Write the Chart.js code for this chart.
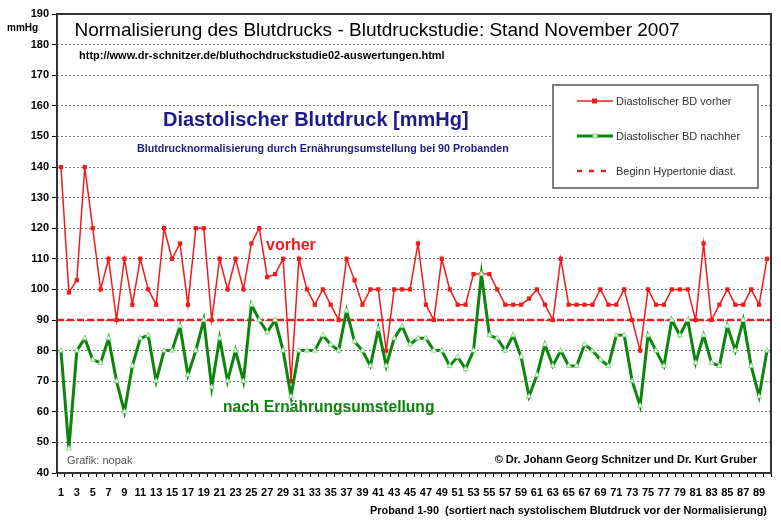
<!DOCTYPE html>
<html>
<head>
<meta charset="utf-8">
<script src="https://cdn.jsdelivr.net/npm/chart.js@4.4.1/dist/chart.umd.min.js"></script>
<style>
html, body { margin: 0; padding: 0; background: #fff; }
#wrap { width: 781px; height: 524px; position: relative; }
</style>
</head>
<body>
<div id="wrap"><canvas id="chart"></canvas></div>
<script>
// Proband 1-90
var probanden = [];
for (var i = 1; i <= 90; i++) probanden.push(String(i));

var vorher = [
  140, 99, 103, 140, 120, 100, 110, 90, 110, 95,
  110, 100, 95, 120, 110, 115, 95, 120, 120, 90,
  110, 100, 110, 100, 115, 120, 104, 105, 110, 70,
  110, 100, 95, 100, 95, 90, 110, 103, 95, 100,
  100, 80, 100, 100, 100, 115, 95, 90, 110, 100,
  95, 95, 105, 105, 105, 100, 95, 95, 95, 97,
  100, 95, 90, 110, 95, 95, 95, 95, 100, 95,
  95, 100, 90, 80, 100, 95, 95, 100, 100, 100,
  90, 115, 90, 95, 100, 95, 95, 100, 95, 110
];
var nachher = [
  80, 48, 80, 84, 77, 76, 84, 70, 60, 75,
  84, 85, 70, 80, 80, 88, 72, 80, 90, 68,
  84, 70, 80, 70, 95, 90, 86, 90, 80, 65,
  80, 80, 80, 85, 82, 80, 93, 83, 80, 75,
  87, 75, 84, 88, 82, 84, 84, 80, 80, 75,
  78, 74, 80, 105, 85, 84, 80, 85, 78, 65,
  72, 82, 75, 80, 75, 75, 82, 80, 77, 75,
  85, 85, 70, 62, 85, 80, 75, 90, 85, 90,
  76, 85, 76, 75, 88, 80, 90, 75, 65, 80
];
var hypertonieGrenze = 90;
var yMin = 40, yMax = 190, yStep = 10;

var rot = '#ee1c1c';
var gruen = '#0c850c';
var blau = '#1b1b8a';
var schrift = '"Liberation Sans", Arial, sans-serif';

Chart.defaults.font.family = schrift;

var beschriftung = {
  id: 'beschriftung',
  beforeDatasetsDraw: function (chart) {
    var ctx = chart.ctx, a = chart.chartArea;
    var y = chart.scales.y.getPixelForValue(hypertonieGrenze);
    ctx.save();
    ctx.strokeStyle = rot;
    ctx.lineWidth = 2.5;
    ctx.setLineDash([7, 3]);
    ctx.beginPath();
    ctx.moveTo(a.left, y);
    ctx.lineTo(a.right, y);
    ctx.stroke();
    ctx.restore();
  },
  afterDraw: function (chart) {
    var ctx = chart.ctx, a = chart.chartArea;
    ctx.save();
    ctx.strokeStyle = '#333';
    ctx.lineWidth = 2;
    ctx.strokeRect(a.left, a.top, a.right - a.left, a.bottom - a.top);

    function text(s, x, y, font, color, align) {
      ctx.font = font;
      ctx.fillStyle = color;
      ctx.textAlign = align || 'left';
      ctx.textBaseline = 'alphabetic';
      ctx.fillText(s, x, y);
    }
    text('mmHg', 7, 31, 'bold 10px ' + schrift, '#000');
    text('Normalisierung des Blutdrucks - Blutdruckstudie: Stand November 2007', 377, 36, '19px ' + schrift, '#000', 'center');
    text('http://www.dr-schnitzer.de/bluthochdruckstudie02-auswertungen.html', 79, 59, 'bold 11px ' + schrift, '#000');
    text('Diastolischer Blutdruck [mmHg]', 163, 126, 'bold 20px ' + schrift, blau);
    text('Blutdrucknormalisierung durch Ernährungsumstellung bei 90 Probanden', 137, 152, 'bold 10.7px ' + schrift, blau);
    text('vorher', 266, 250, 'bold 16px ' + schrift, rot);
    text('nach Ernährungsumstellung', 223, 412, 'bold 15.6px ' + schrift, gruen);
    text('Grafik: nopak', 67, 464, '11px ' + schrift, '#555');
    text('\u00a9 Dr. Johann Georg Schnitzer und Dr. Kurt Gruber', 757, 463, 'bold 11px ' + schrift, '#000', 'right');
    text('Proband 1-90  (sortiert nach systolischem Blutdruck vor der Normalisierung)', 767, 514, 'bold 10.9px ' + schrift, '#000', 'right');

    // Legende
    ctx.fillStyle = '#fff';
    ctx.fillRect(553, 85, 205, 103);
    ctx.strokeStyle = '#7f7f7f';
    ctx.lineWidth = 2;
    ctx.strokeRect(553, 85, 205, 103);

    ctx.strokeStyle = rot;
    ctx.lineWidth = 1.5;
    ctx.beginPath(); ctx.moveTo(577, 101); ctx.lineTo(613, 101); ctx.stroke();
    ctx.fillStyle = rot;
    ctx.fillRect(592, 98.5, 5, 5);

    ctx.strokeStyle = gruen;
    ctx.lineWidth = 3;
    ctx.beginPath(); ctx.moveTo(577, 136); ctx.lineTo(613, 136); ctx.stroke();
    ctx.fillStyle = '#f0fff0';
    ctx.strokeStyle = '#8ed88e';
    ctx.lineWidth = 1;
    ctx.fillRect(593, 134, 4, 4);
    ctx.strokeRect(593, 134, 4, 4);

    ctx.strokeStyle = rot;
    ctx.lineWidth = 2.5;
    ctx.setLineDash([5, 7]);
    ctx.beginPath(); ctx.moveTo(577, 171); ctx.lineTo(610, 171); ctx.stroke();
    ctx.setLineDash([]);

    text('Diastolischer BD vorher', 616, 105, '11px ' + schrift, '#333');
    text('Diastolischer BD nachher', 616, 140, '11px ' + schrift, '#333');
    text('Beginn Hypertonie diast.', 616, 175, '11px ' + schrift, '#333');
    ctx.restore();
  }
};

var config = {
  type: 'line',
  data: {
    labels: probanden,
    datasets: [{
      label: 'Diastolischer BD vorher',
      data: vorher,
      borderColor: rot,
      backgroundColor: rot,
      borderWidth: 1.5,
      pointStyle: 'rect',
      pointRadius: 3,
      pointBorderWidth: 0,
      tension: 0,
      order: 2
    }, {
      label: 'Diastolischer BD nachher',
      data: nachher,
      borderColor: gruen,
      borderWidth: 3,
      pointStyle: 'triangle',
      pointRadius: 3,
      pointBackgroundColor: '#f0fff0',
      pointBorderColor: '#8ed88e',
      pointBorderWidth: 1,
      tension: 0,
      order: 1
    }]
  },
  options: {
    responsive: true,
    maintainAspectRatio: false,
    animation: false,
    layout: { padding: { top: 14, right: 10, left: 0, bottom: 0 } },
    plugins: {
      legend: { display: false },
      title: { display: false },
      tooltip: { enabled: false }
    },
    scales: {
      x: {
        offset: true,
        afterFit: function (scale) { scale.height = 51; },
        grid: {
          offset: true,
          drawOnChartArea: false,
          drawTicks: true,
          tickLength: 4,
          tickColor: '#000',
          color: '#000'
        },
        border: { display: false },
        ticks: {
          autoSkip: false,
          maxRotation: 0,
          padding: 9,
          color: '#000',
          font: { size: 11, weight: 'bold' },
          callback: function (v, idx) { return idx % 2 === 0 ? probanden[idx] : ''; }
        }
      },
      y: {
        min: yMin,
        max: yMax,
        afterFit: function (scale) { scale.width = 57; },
        grid: {
          color: '#7a7a7a',
          tickLength: 5,
          tickColor: '#000',
          tickBorderDash: []
        },
        border: { display: false, dash: [2, 2] },
        ticks: {
          stepSize: yStep,
          padding: 3,
          color: '#000',
          font: { size: 11, weight: 'bold' }
        }
      }
    }
  },
  plugins: [beschriftung]
};

new Chart(document.getElementById('chart').getContext('2d'), config);
</script>
</body>
</html>
